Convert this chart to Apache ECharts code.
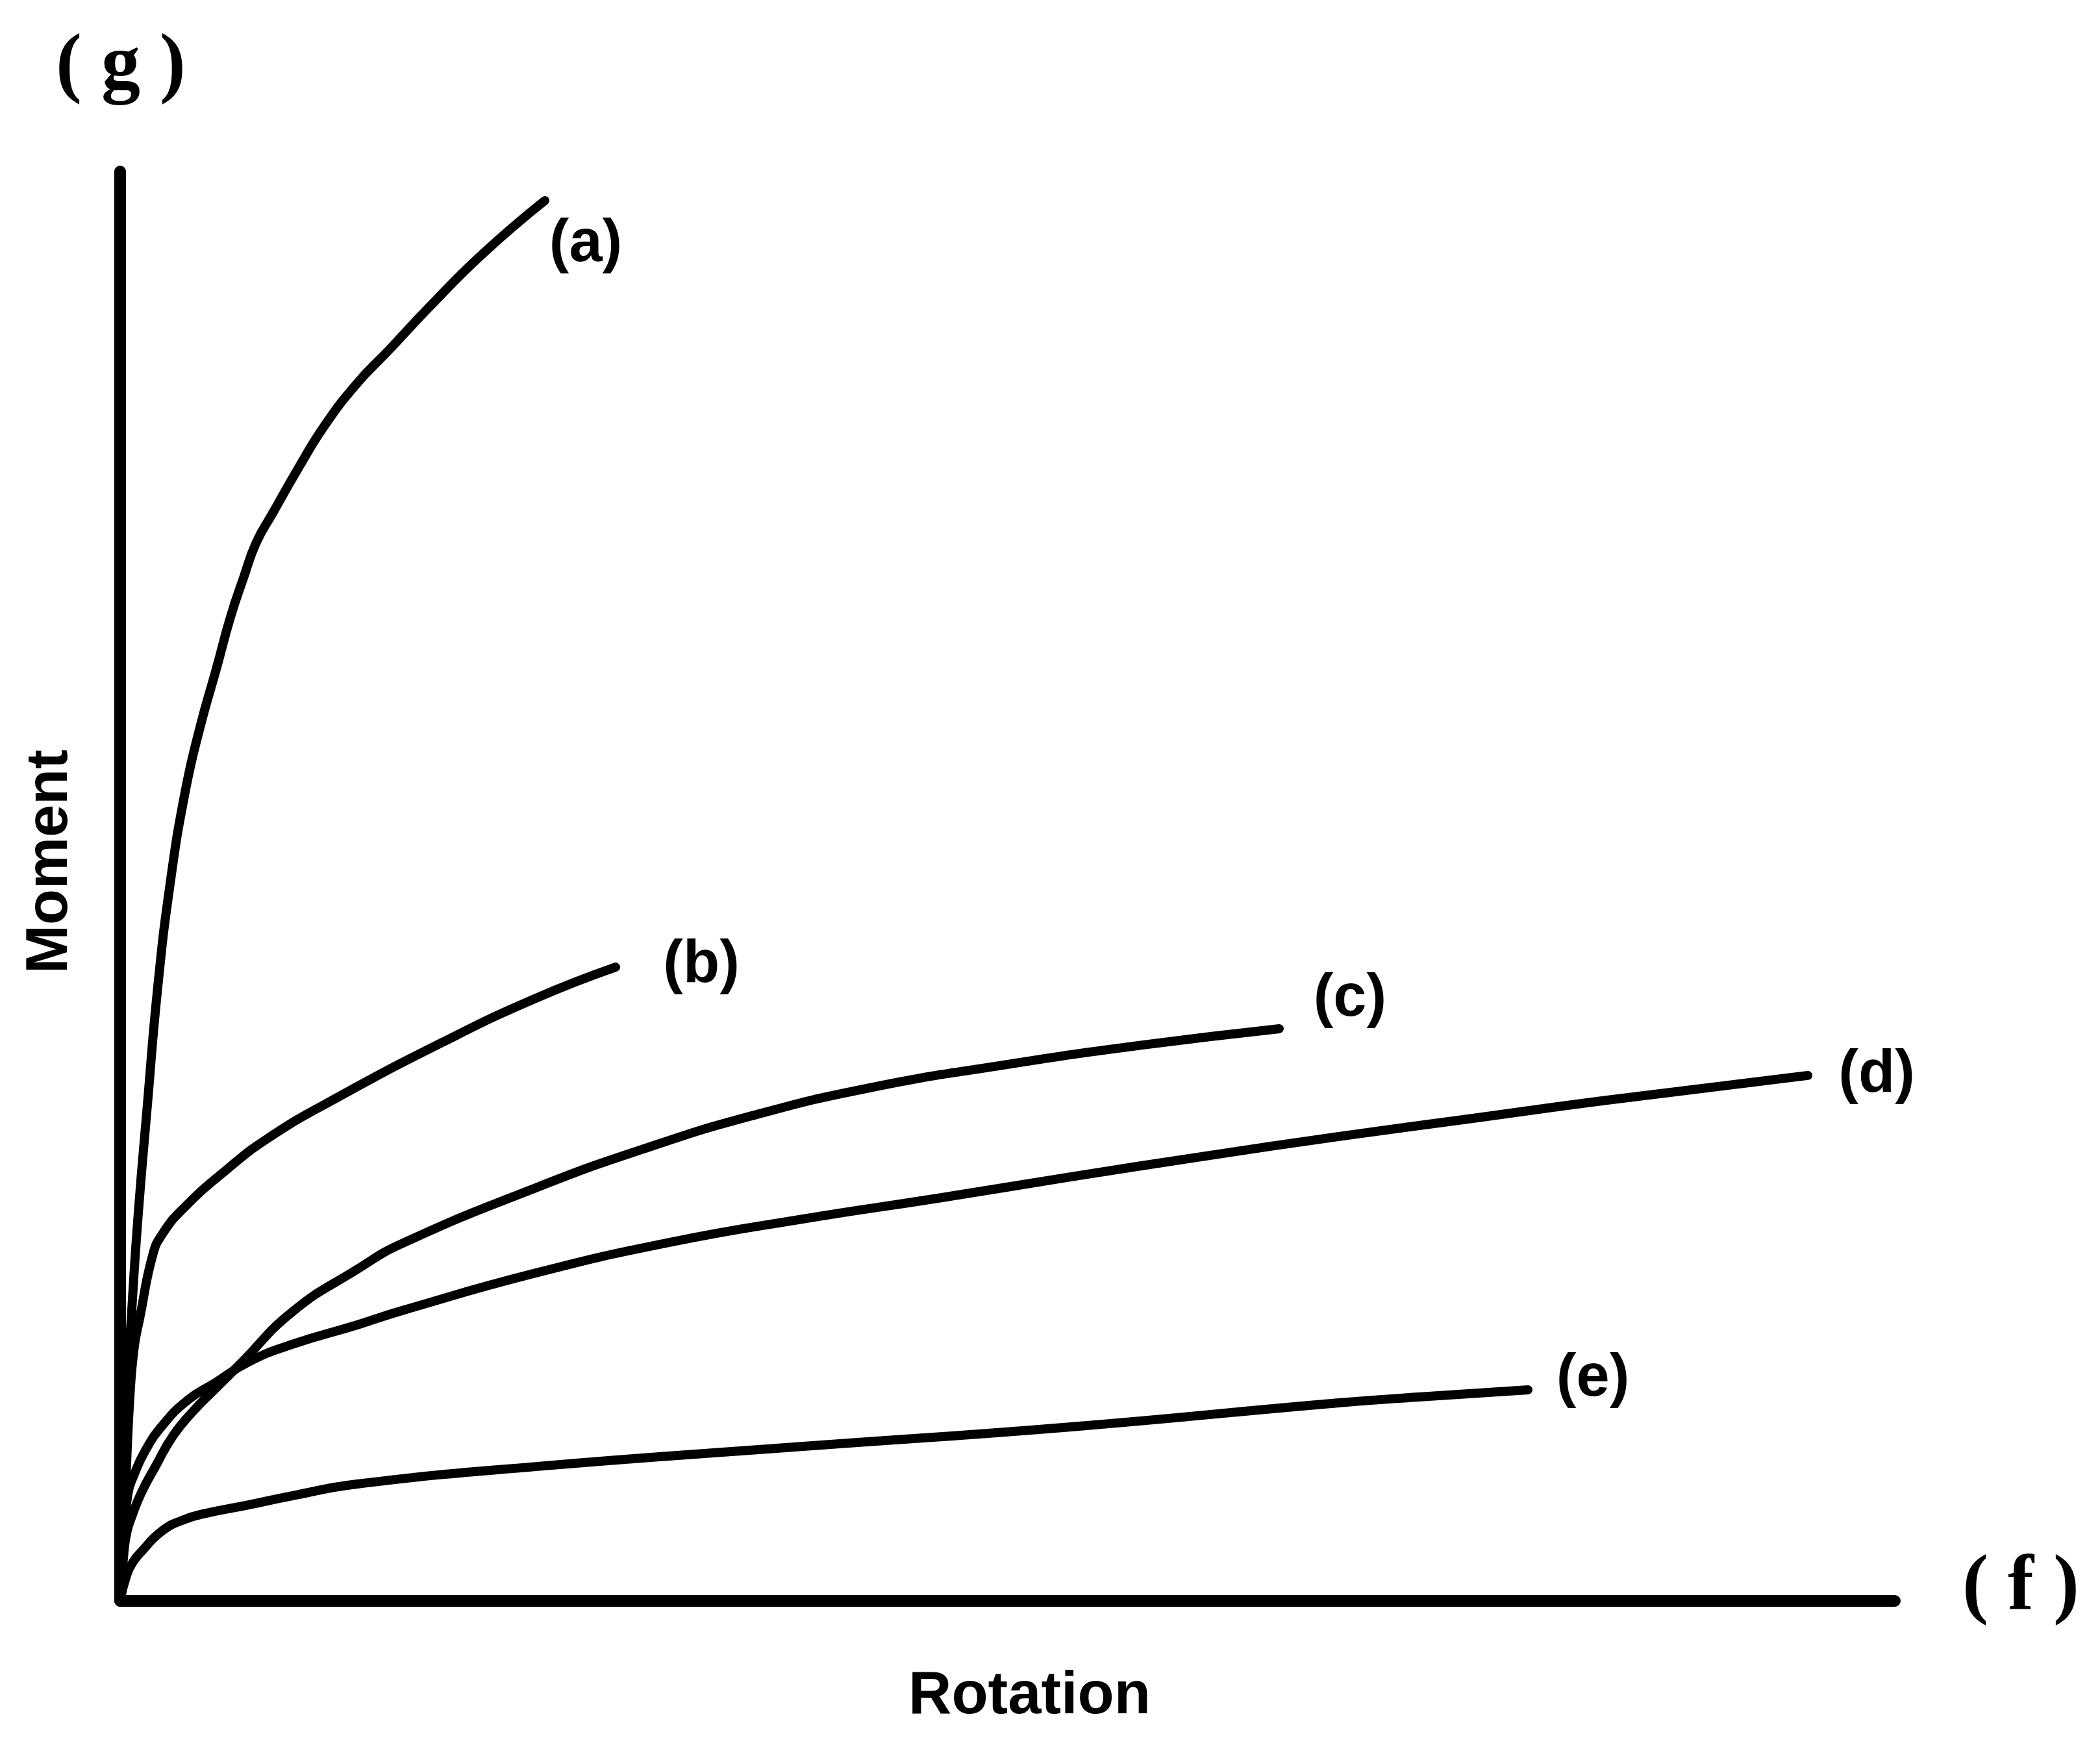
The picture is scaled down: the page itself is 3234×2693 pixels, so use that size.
<!DOCTYPE html>
<html>
<head>
<meta charset="utf-8">
<title>Moment–Rotation</title>
<script src="https://cdn.jsdelivr.net/npm/echarts@6/dist/echarts.min.js"></script>
<style>
  html, body { margin: 0; padding: 0; background: #fff; }
  #chart { width: 3234px; height: 2693px; }
</style>
</head>
<body>
<div id="chart"></div>
<script>
// Moment–rotation curves, each as [rotation, moment] pairs (axis units 0–100)
const curveA = [[0,0],[0.18,7.5],[0.40,15.22],[0.62,19.63],[0.99,26.58],[1.54,34.76],[2.12,42.94],[2.82,50.20],[3.66,56.57],[4.50,61.11],[5.42,65.20],[6.22,68.83],[6.95,71.56],[7.68,74.06],[8.60,76.10],[10.06,79.28],[11.53,82.24],[13.36,85.19],[15.11,87.46],[17.38,90.46],[20.38,94.18],[23.93,97.96]];
const curveB = [[0,0],[0.29,7.50],[0.55,14.31],[0.80,17.81],[1.10,19.76],[1.83,24.17],[2.38,25.67],[3.59,27.49],[6.04,30.21],[8.31,32.35],[11.89,34.98],[18.15,39.07],[23.42,42.16],[27.92,44.34]];
const curveC = [[0,0],[0.18,2.95],[0.37,4.77],[0.66,5.91],[1.17,7.50],[2.01,9.45],[3.00,11.59],[4.21,13.40],[5.31,14.77],[6.77,16.58],[9.70,20.22],[13.36,23.20],[15.88,25.00],[23.42,28.90],[29.45,31.60],[35.49,33.90],[42.26,35.90],[49.84,37.50],[57.37,38.85],[65.31,40.03]];
const curveD = [[0,0],[0.18,3.86],[0.44,7.50],[0.80,8.86],[1.39,10.45],[2.38,12.27],[3.84,14.08],[5.31,15.22],[7.24,16.72],[9.70,17.95],[13.36,19.31],[15.88,20.31],[23.42,22.94],[30.95,25.08],[38.49,26.72],[46.07,28.17],[53.60,29.67],[61.14,31.12],[68.68,32.49],[76.22,33.76],[83.79,35.03],[95.10,36.76]];
const curveE = [[0,0],[0.37,1.82],[0.73,2.73],[1.17,3.41],[2.38,4.91],[3.59,5.68],[4.83,6.13],[7.24,6.72],[9.70,7.36],[13.36,8.18],[23.42,9.40],[38.49,10.81],[53.60,12.18],[68.68,13.86],[73.73,14.31],[79.33,14.77]];

const curves = [curveA, curveB, curveC, curveD, curveE];
const curveNames = ['(a)', '(b)', '(c)', '(d)', '(e)'];
// where each curve's tag sits relative to the curve's last point
const tagOffsets = [[63, 68], [132, -2], [109, -45], [106, 0], [100, -16]];

const axisTitleX = 'Rotation';
const axisTitleY = 'Moment';
const cornerTagY = '( g )';
const cornerTagX = '( f )';

const INK = '#000';
const sansBold = "'Liberation Sans', Arial, sans-serif";

const chart = echarts.init(document.getElementById('chart'), null, { renderer: 'canvas' });

chart.setOption({
  backgroundColor: '#fff',
  animation: false,
  grid: { left: 185, right: 316, top: 264, bottom: 228, containLabel: false },
  xAxis: {
    type: 'value', min: 0, max: 100,
    name: axisTitleX, nameLocation: 'middle', nameGap: 102,
    nameTextStyle: { color: INK, fontFamily: sansBold, fontWeight: 'bold', fontSize: 92, padding: [0, 0, 0, 68] },
    axisLine: { show: true, lineStyle: { color: INK, width: 18, cap: 'round' } },
    axisTick: { show: false }, axisLabel: { show: false }, splitLine: { show: false }
  },
  yAxis: {
    type: 'value', min: 0, max: 100,
    name: axisTitleY, nameLocation: 'middle', nameGap: 62, nameRotate: 90,
    nameTextStyle: { color: INK, fontFamily: sansBold, fontWeight: 'bold', fontSize: 90, padding: [0, 0, 0, 76] },
    axisLine: { show: true, lineStyle: { color: INK, width: 18, cap: 'round' } },
    axisTick: { show: false }, axisLabel: { show: false }, splitLine: { show: false }
  },
  series: curves.map((pts, i) => ({
    type: 'line',
    name: curveNames[i],
    data: pts,
    showSymbol: false,
    smooth: 0.5,
    clip: false,
    lineStyle: { color: INK, width: 14, cap: 'round', join: 'round' },
    endLabel: {
      show: true,
      formatter: curveNames[i],
      distance: 0,
      align: 'center',
      verticalAlign: 'middle',
      offset: tagOffsets[i],
      color: INK,
      fontFamily: sansBold,
      fontWeight: 'bold',
      fontSize: 92
    }
  })),
  graphic: [
    {
      type: 'text', x: 186, y: 104,
      style: { text: cornerTagY, fill: INK, font: "bold 120px 'Liberation Serif', 'DejaVu Serif', serif", textAlign: 'center', textVerticalAlign: 'middle' }
    },
    {
      type: 'text', x: 3112, y: 2446,
      style: { text: cornerTagX, fill: INK, font: "bold 120px 'Liberation Serif', 'DejaVu Serif', serif", textAlign: 'center', textVerticalAlign: 'middle' }
    }
  ]
});
</script>
</body>
</html>
